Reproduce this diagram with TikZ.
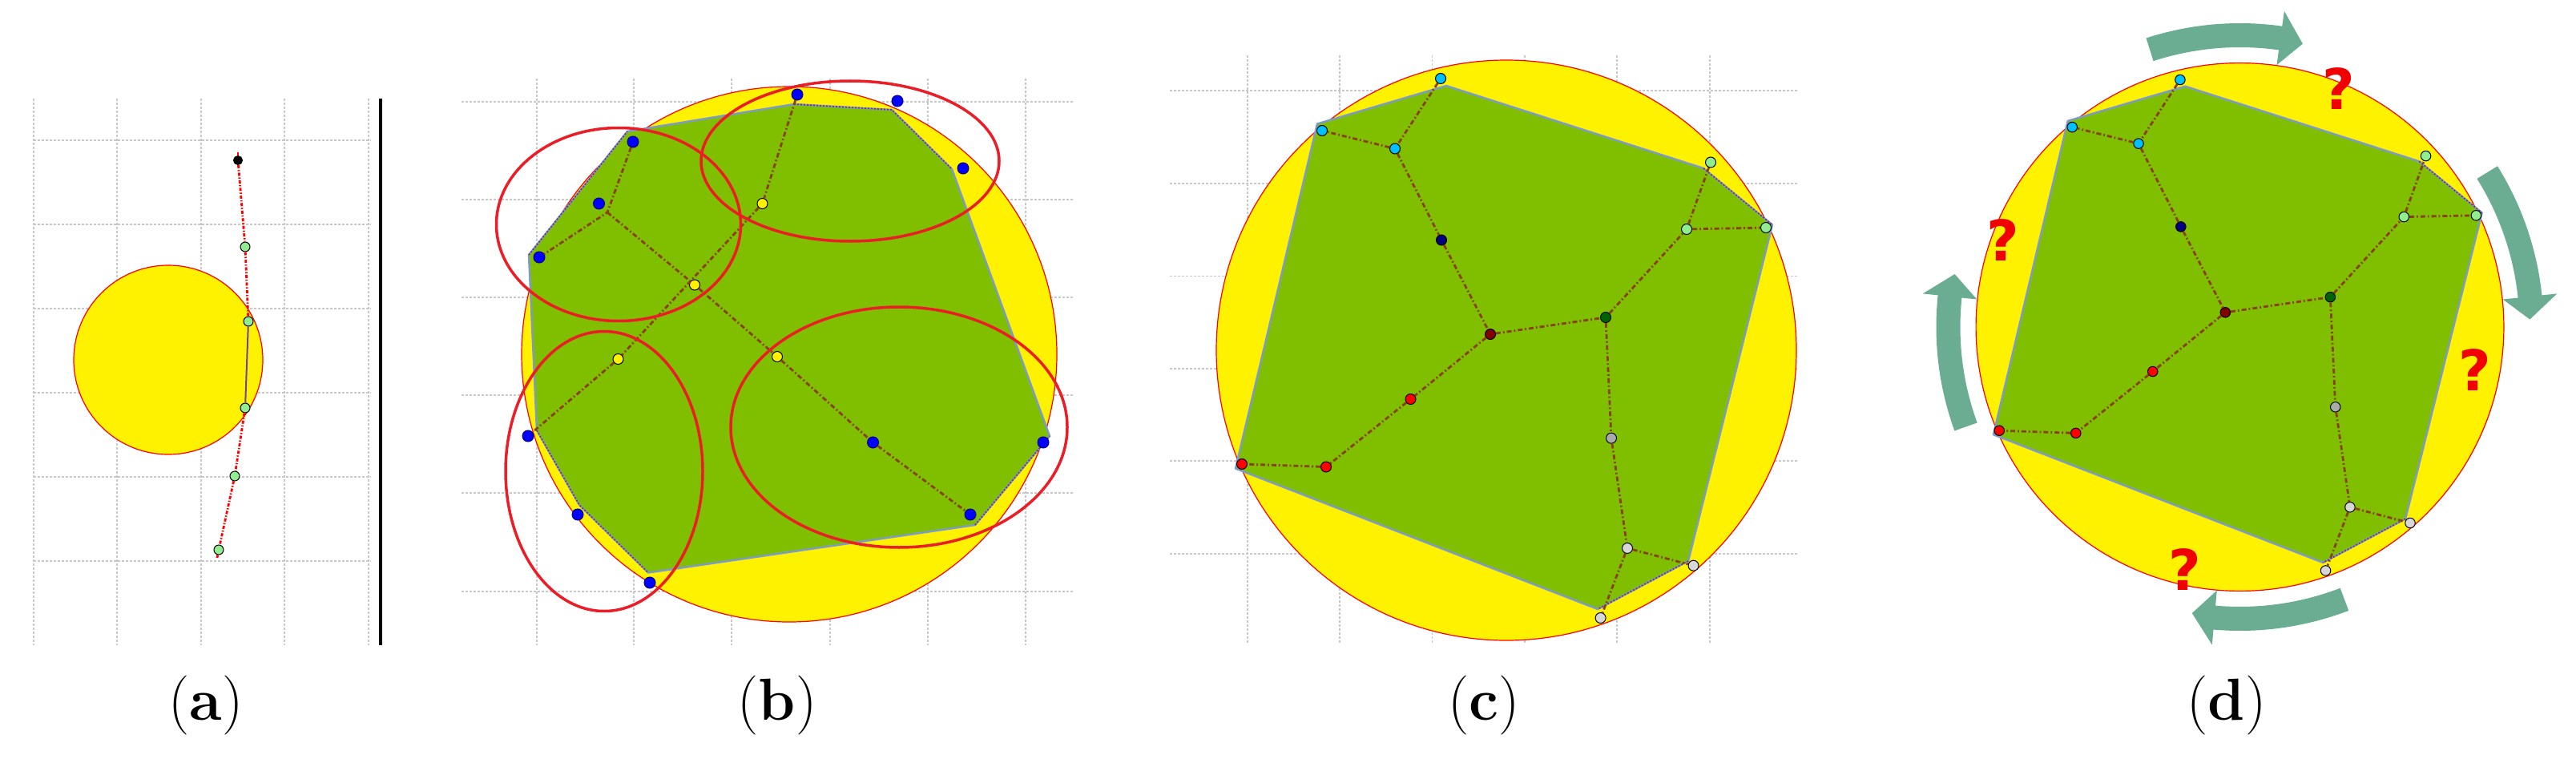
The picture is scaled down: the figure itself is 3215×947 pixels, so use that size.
\documentclass[tikz,border=0pt]{standalone}
\usepackage{fontspec}
\newfontfamily\qfont{DejaVu Sans}
\definecolor{gridc}{RGB}{200,200,200}
\definecolor{polyg}{RGB}{128,191,0}
\definecolor{polyedge}{RGB}{125,155,200}
\definecolor{netc}{RGB}{135,65,20}
\definecolor{edgec}{RGB}{120,50,110}
\definecolor{ellc}{RGB}{235,30,40}
\definecolor{arrc}{RGB}{106,173,147}
\definecolor{lgreen}{RGB}{144,238,144}
\definecolor{dsky}{RGB}{0,191,255}
\definecolor{navyc}{RGB}{0,0,128}
\definecolor{dred}{RGB}{128,0,0}
\definecolor{dgreen}{RGB}{0,100,0}
\definecolor{grayc}{RGB}{170,170,170}
\definecolor{lgray}{RGB}{215,215,215}
\definecolor{qred}{RGB}{240,0,0}
\definecolor{pathpurple}{RGB}{110,70,160}
\tikzset{
  gridline/.style={draw=gridc, line width=1.1pt, dash pattern=on 3pt off 2pt},
  disc/.style={fill=yellow, draw=red, line width=1.2pt},
  poly/.style={fill=polyg, draw=polyedge, line width=2.5pt, line join=round},
  net/.style={draw=netc, line width=2.8pt, dash pattern=on 6pt off 3pt on 1.8pt off 3pt},
  edgedot/.style={draw=edgec, line width=1.6pt, dash pattern=on 2pt off 2pt},
  pt/.style={circle, draw=black, line width=1pt, inner sep=0pt, minimum size=\ptsize},
  ell/.style={draw=ellc, line width=3.5pt},
  redpath/.style={draw=red, line width=2.8pt, dash pattern=on 4pt off 2pt on 1.5pt off 2pt},
  qmark/.style={text=qred, font=\qfont\bfseries\fontsize{70}{70}\selectfont, inner sep=0pt},
  sublabel/.style={font=\fontsize{74}{80}\selectfont, inner sep=0pt},
  arrbody/.style={draw=arrc, line width=30pt},
}
\newcommand\ptsize{13pt}
\newcommand\voronoipanel[1]{%
  \draw[disc] (0,0) circle[radius=362];
  \coordinate (#1v1) at (-236,-282.5);
  \coordinate (#1v2) at (-75,-330);
  \coordinate (#1v3) at (246,-227);
  \coordinate (#1v4) at (332,-156.5);
  \coordinate (#1v5) at (227,263);
  \coordinate (#1v6) at (114,323);
  \coordinate (#1v7) at (-338,147.5);
  \path[poly] (#1v1) -- (#1v2) -- (#1v3) -- (#1v4) -- (#1v5) -- (#1v6) -- (#1v7) -- cycle;
  \draw[edgedot] (#1v3) -- (#1v4);
  \draw[edgedot] (#1v5) -- (#1v6);
  \node[pt, fill=dsky] (#1a) at (-82,-339) {};
  \node[pt, fill=dsky] (#1b) at (-230,-274) {};
  \node[pt, fill=dsky] (#1c) at (-139,-251.5) {};
  \node[pt, fill=navyc] (#1n) at (-81,-137.5) {};
  \node[pt, fill=dred] (#1m) at (-20,-20) {};
  \node[pt, fill=red] (#1r1) at (-119.5,61) {};
  \node[pt, fill=red] (#1r2) at (-225,145.5) {};
  \node[pt, fill=red] (#1r3) at (-330,142) {};
  \node[pt, fill=dgreen] (#1g) at (124,-41) {};
  \node[pt, fill=lgreen] (#1l1) at (255,-234.5) {};
  \node[pt, fill=lgreen] (#1l2) at (225,-151) {};
  \node[pt, fill=lgreen] (#1l3) at (324,-153) {};
  \node[pt, fill=grayc] (#1s) at (131,109.7) {};
  \node[pt, fill=lgray] (#1t1) at (151,247) {};
  \node[pt, fill=lgray] (#1t2) at (233.5,268.7) {};
  \node[pt, fill=lgray] (#1t3) at (117.6,334) {};
  \draw[net] (#1a) -- (#1c) -- (#1b);
  \draw[net] (#1c) -- (#1n) -- (#1m);
  \draw[net] (#1m) -- (#1g) -- (#1l2) -- (#1l1);
  \draw[net] (#1l2) -- (#1l3);
  \draw[net] (#1m) -- (#1r1) -- (#1r2) -- (#1r3);
  \draw[net] (#1g) -- (#1s) -- (#1t1) -- (#1t2);
  \draw[net] (#1t1) -- (#1t3);
}
\begin{document}
\begin{tikzpicture}[x=1pt, y=-1pt]
\useasboundingbox (0,0) rectangle (3215,947);

% ---------------- panel (a)
\foreach \gx in {42,146,251,355,460} \draw[gridline] (\gx,123) -- (\gx,805);
\foreach \gy in {175,280,385,490,595,700} \draw[gridline] (42,\gy) -- (463,\gy);
\draw[disc] (210,449) circle[radius=118];
\fill[black] (473,123) rectangle (477,805);
\renewcommand\ptsize{12pt}
\node[pt, fill=black, minimum size=11pt] (a0) at (297,200) {};
\node[pt, fill=lgreen] (a1) at (306,308) {};
\node[pt, fill=lgreen] (a2) at (310,401) {};
\node[pt, fill=lgreen] (a3) at (306,509) {};
\node[pt, fill=lgreen] (a4) at (293,594) {};
\node[pt, fill=lgreen] (a5) at (273,686) {};
\coordinate (atop) at (297,190);
\coordinate (abot) at (271,696);
\draw[redpath] (atop) -- (a0);
\draw[redpath] (a0) -- (a1) -- (a2);
\draw[draw=pathpurple, line width=2pt] (a2) -- (a3);
\draw[redpath] (a3) -- (a4) -- (a5) -- (abot);

% ---------------- panel (b)
\foreach \gx in {670,791,913,1036,1158,1280} \draw[gridline] (\gx,98) -- (\gx,805);
\foreach \gy in {127,249,371,493,615,738} \draw[gridline] (576,\gy) -- (1340,\gy);
\draw[disc] (985,442) circle[radius=334];
\coordinate (bv1) at (783,164);
\coordinate (bv2) at (991,130);
\coordinate (bv3) at (1113,137);
\coordinate (bv4) at (1188,211);
\coordinate (bv5) at (1310,544);
\coordinate (bv6) at (1217,655);
\coordinate (bv7) at (809,714.5);
\coordinate (bv8) at (723,630);
\coordinate (bv9) at (670,537);
\coordinate (bv10) at (660,318);
\path[poly] (bv1) -- (bv2) -- (bv3) -- (bv4) -- (bv5) -- (bv6) -- (bv7) -- (bv8) -- (bv9) -- (bv10) -- cycle;
\draw[edgedot] (bv2) -- (bv3) -- (bv4);
\draw[edgedot] (bv9) -- (bv8) -- (bv7);
\draw[edgedot] (bv6) -- (bv5);
\draw[edgedot] (bv10) -- (bv1);
\renewcommand\ptsize{14pt}
\foreach \nm/\px/\py in {bb1/790/177, bb2/995/118, bb3/1120/126, bb4/1202/210, bb5/747.5/254, bb6/673/321, bb7/659/544, bb8/721/642, bb9/811/727, bb10/1089.5/552, bb11/1211/642, bb12/1302/552}
  \node[pt, fill=blue, draw=navyc] (\nm) at (\px,\py) {};
\renewcommand\ptsize{13pt}
\node[pt, fill=yellow] (by1) at (951.5,254) {};
\node[pt, fill=yellow] (by2) at (867,355.5) {};
\node[pt, fill=yellow] (by3) at (771.5,448) {};
\node[pt, fill=yellow] (by4) at (970,445) {};
\coordinate (bk1) at (758,265);
\draw[net] (bb1) -- (bk1) -- (bb6);
\draw[net] (bk1) -- (by2) -- (by4) -- (bb10) -- (bb11);
\draw[net] (bb2) -- (by1) -- (by3) -- (bb7);
\draw[ell] (772,280) ellipse[x radius=152.5, y radius=120.5];
\draw[ell] (1061,201) ellipse[x radius=186, y radius=100];
\draw[ell] (754,588) ellipse[x radius=123, y radius=174.5];
\draw[ell] (1122,533) ellipse[x radius=210, y radius=150];

% ---------------- panel (c)
\foreach \gx in {1557,1672,1787.5,1903,2018,2134} \draw[gridline] (\gx,69) -- (\gx,802);
\foreach \gy in {113,229,344.5,460,575,691} \draw[gridline] (1460,\gy) -- (2244,\gy);
\begin{scope}[shift={(1880,437)}]
  \renewcommand\ptsize{13pt}
  \voronoipanel{c}
\end{scope}

% ---------------- panel (d)
\begin{scope}[shift={(2795.5,408)}, scale=0.91]
  \renewcommand\ptsize{12.5pt}
  \voronoipanel{d}
\end{scope}
\foreach \aa/\bb/\tt in {108/82/77.5, 32/6/1.5, -69/-95/-99.5, 200/174/169.5} {
  \draw[arrbody] plot[domain=\bb-0.3:\aa, samples=30] ({2795.5+364*cos(\x)}, {408-364*sin(\x)});
  \fill[arrc] ({2795.5+398*cos(\bb)}, {408-398*sin(\bb)}) -- ({2795.5+330*cos(\bb)}, {408-330*sin(\bb)}) -- ({2795.5+362*cos(\tt)}, {408-362*sin(\tt)}) -- cycle;
}
\node[qmark] (q1) at (2919,111) {?};
\node[qmark] (q2) at (2500,300) {?};
\node[qmark] (q3) at (3089,462) {?};
\node[qmark] (q4) at (2727,711) {?};

% ---------------- labels
\node[sublabel] (la) at (257,880) {(\textbf{a})};
\node[sublabel] (lb) at (970,880) {(\textbf{b})};
\node[sublabel] (lc) at (1852,880) {(\textbf{c})};
\node[sublabel] (ld) at (2779,880) {(\textbf{d})};
\end{tikzpicture}
\end{document}
